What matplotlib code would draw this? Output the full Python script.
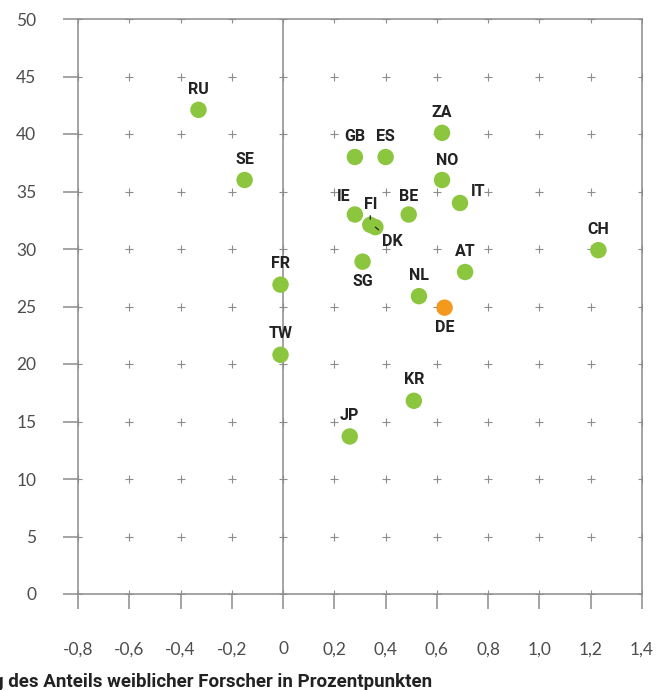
import numpy as np
import matplotlib
matplotlib.use("Agg")
import matplotlib.pyplot as plt

# data: change in share of female researchers (pp) vs share of female researchers (%)
countries = ["RU", "SE", "FR", "TW", "GB", "ES", "ZA", "NO", "IE", "FI",
             "DK", "BE", "IT", "SG", "NL", "DE", "AT", "CH", "KR", "JP"]
change_pp = [-0.33, -0.15, -0.01, -0.01, 0.28, 0.40, 0.62, 0.62, 0.28, 0.34,
             0.36, 0.49, 0.69, 0.31, 0.53, 0.63, 0.71, 1.23, 0.51, 0.26]
share_pct = [42.1, 36.0, 26.9, 20.8, 38.0, 38.0, 40.1, 36.0, 33.0, 32.1,
             31.9, 33.0, 34.0, 28.9, 25.9, 24.9, 28.0, 29.9, 16.8, 13.7]
highlight = "DE"

xticks = [-0.8, -0.6, -0.4, -0.2, 0, 0.2, 0.4, 0.6, 0.8, 1.0, 1.2, 1.4]
xticklabels = ["-0,8", "-0,6", "-0,4", "-0,2", "0", "0,2", "0,4", "0,6",
               "0,8", "1,0", "1,2", "1,4"]
yticks = [0, 5, 10, 15, 20, 25, 30, 35, 40, 45, 50]
xlabel = "Veränderung des Anteils weiblicher Forscher in Prozentpunkten"

# label placement (offset in points)
label_pos = {
    "NO": (4, 14), "IE": (-8, 13), "BE": (0, 13), "IT": (13, 8),
    "SG": (0, -14), "DE": (0, -14), "DK": (12, -10), "FI": (0, 15),
}
default_pos = (0, 15)

GREEN = "#8cc63f"
ORANGE = "#f39a1e"
GREY = "#8c8c8c"
TXT = "#222222"
BOLD_FONT = ["Roboto", "DejaVu Sans"]

fig = plt.figure(figsize=(6.7, 6.9), dpi=100)
ax = fig.add_axes([78 / 670, 1 - 594 / 690, (642 - 78) / 670, (594 - 19) / 690])

ax.set_xlim(-0.8, 1.4)
ax.set_ylim(0, 50)

# plus-grid (half pluses at the frame act as inner ticks)
gx, gy = np.meshgrid(xticks, yticks)
ax.plot(gx.ravel(), gy.ravel(), ls="", marker="+", ms=5.5, mew=0.8,
        color=GREY, zorder=1, clip_on=True)

ax.axvline(0, color=GREY, lw=1.1, zorder=1)

colors = [ORANGE if c == highlight else GREEN for c in countries]
ax.scatter(change_pp, share_pct, s=140, c=colors, edgecolors="none", zorder=3)

for c, x, y in zip(countries, change_pp, share_pct):
    dx, dy = label_pos.get(c, default_pos)
    arrow = None
    if c in ("FI", "DK"):
        arrow = dict(arrowstyle="-", color=TXT, lw=0.9, shrinkA=1, shrinkB=4)
    ax.annotate(c, (x, y), xytext=(dx, dy), textcoords="offset points",
                ha="center", va="center", fontsize=11.5, fontweight="bold",
                color=TXT, family=BOLD_FONT, arrowprops=arrow, zorder=4)

for side in ["left", "right", "top", "bottom"]:
    ax.spines[side].set_color(GREY)
    ax.spines[side].set_linewidth(1.1)

ax.set_xticks(xticks)
ax.set_xticklabels(xticklabels)
ax.set_yticks(yticks)
ax.tick_params(axis="both", direction="out", length=11, width=1.1, color=GREY,
               labelcolor="#4d4d4d", labelsize=12.5)
ax.tick_params(axis="x", pad=23)
ax.tick_params(axis="y", pad=19)
for lab in ax.get_xticklabels() + ax.get_yticklabels():
    lab.set_family(["Lato", "DejaVu Sans"])

# the reference crops the start of this label at the left edge
fig.text(432 / 670, 1 - 682 / 690, xlabel, ha="right", va="center",
         fontsize=13.5, fontweight="bold", color=TXT, family=BOLD_FONT)

fig.savefig("out.png", dpi=100, facecolor="white")
